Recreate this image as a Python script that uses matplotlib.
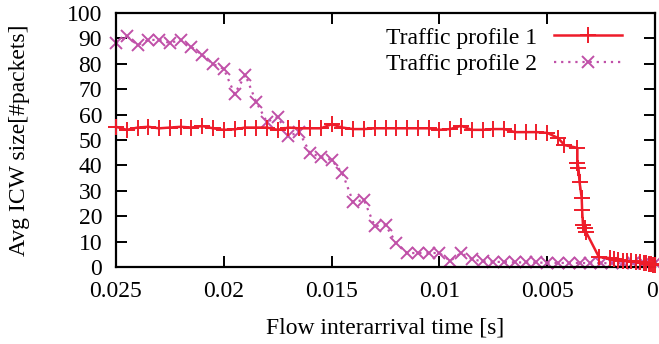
import matplotlib
matplotlib.use("Agg")
import matplotlib.pyplot as plt
import matplotlib.transforms as mtransforms

plt.rcParams['font.family'] = ['Liberation Serif', 'DejaVu Serif']

# Flow interarrival time [s] and average ICW size for each traffic profile
t_profile1 = [0.025, 0.0245, 0.024, 0.0235, 0.023, 0.0225, 0.022, 0.0215, 0.021, 0.0205,
              0.02, 0.0195, 0.019, 0.0185, 0.018, 0.0175, 0.017, 0.0165, 0.016, 0.0155,
              0.015, 0.0145, 0.014, 0.0135, 0.013, 0.0125, 0.012, 0.0115, 0.011, 0.0105,
              0.01, 0.0095, 0.009, 0.0085, 0.008, 0.0075, 0.007, 0.0065, 0.006, 0.0055,
              0.005, 0.0045, 0.0042, 0.0036, 0.0036, 0.00355, 0.0035, 0.0034, 0.00338,
              0.00334, 0.00326, 0.0032, 0.0026, 0.0021, 0.0019, 0.0017, 0.0015, 0.0013,
              0.0011, 0.0009, 0.0007, 0.0005, 0.0004, 0.0003, 0.0002, 0.0001, 0.0]
icw_profile1 = [55.2, 54.0, 54.9, 55.2, 54.6, 54.9, 55.2, 54.9, 55.5, 54.6,
                54.0, 54.2, 54.9, 54.9, 54.9, 54.0, 54.9, 54.6, 54.6, 54.6,
                56.2, 54.9, 54.3, 54.3, 54.6, 54.6, 54.6, 54.6, 54.6, 54.6,
                54.0, 54.3, 55.6, 54.0, 54.0, 54.3, 54.3, 53.1, 53.1, 53.1,
                52.8, 50.8, 48.0, 46.9, 41.0, 39.0, 33.5, 27.2, 22.4,
                16.5, 15.4, 13.8, 3.9, 3.5, 3.0, 2.8, 2.5, 2.3,
                2.2, 2.0, 1.8, 1.6, 1.5, 1.2, 1.0, 0.8, 0.8]

t_profile2 = [0.025, 0.0245, 0.024, 0.0235, 0.023, 0.0225, 0.022, 0.0215, 0.021, 0.0205,
              0.02, 0.0195, 0.019, 0.0185, 0.018, 0.0175, 0.017, 0.0165, 0.016, 0.0155,
              0.015, 0.0145, 0.014, 0.0135, 0.013, 0.0125, 0.012, 0.0115, 0.011, 0.0105,
              0.01, 0.0095, 0.009, 0.0085, 0.008, 0.0075, 0.007, 0.0065, 0.006, 0.0055,
              0.005, 0.0045, 0.004, 0.0035, 0.003, 0.0025, 0.002, 0.0015, 0.001, 0.0005, 0.0]
icw_profile2 = [88.2, 90.9, 87.4, 89.4, 89.4, 88.2, 89.4, 86.6, 83.5, 79.9,
                78.0, 68.1, 75.6, 65.0, 57.1, 59.1, 51.6, 53.1, 44.9, 43.3,
                42.1, 37.0, 25.6, 26.4, 16.1, 16.5, 9.4, 5.5, 5.5, 5.5,
                5.5, 2.4, 5.5, 3.1, 2.2, 2.0, 2.0, 1.8, 1.8, 1.8,
                1.6, 1.6, 1.6, 1.6, 1.5, 1.5, 1.5, 1.5, 1.5, 1.5, 1.5]

series_labels = ['Traffic profile 1', 'Traffic profile 2']
x_ticks = [0.025, 0.02, 0.015, 0.01, 0.005, 0.0]
x_tick_labels = ['0.025', '0.02', '0.015', '0.01', '0.005', '0']
y_ticks = [0, 10, 20, 30, 40, 50, 60, 70, 80, 90, 100]

FS = 17

fig = plt.figure(figsize=(6.59, 3.44), dpi=100)
ax = fig.add_axes([116 / 659, 1 - 267 / 344, (655 - 116) / 659, (267 - 13) / 344])

red = '#ee1c2a'
purple = '#c050a8'

ax.plot(t_profile1, icw_profile1, color=red, linestyle='-', linewidth=1.8,
        marker='+', markersize=11, markeredgewidth=1.4, label=series_labels[0],
        clip_on=False, zorder=3)
ax.plot(t_profile2, icw_profile2, color=purple, linestyle=(0, (1, 2.2)), linewidth=1.6,
        marker='x', markersize=9, markeredgewidth=1.4, label=series_labels[1],
        clip_on=False, zorder=2)

ax.set_xlim(0.025, 0.0)
ax.set_ylim(0, 100)
ax.set_xticks(x_ticks)
ax.set_xticklabels(x_tick_labels)
ax.set_yticks(y_ticks)

for s in ax.spines.values():
    s.set_linewidth(1.6)
ax.tick_params(direction='in', top=True, right=True, length=8, width=1.4,
               labelsize=FS, pad=10)
ax.tick_params(axis='x', pad=10)

# keep the rightmost "0" inside the canvas
last = ax.get_xticklabels()[-1]
last.set_transform(last.get_transform() +
                   mtransforms.ScaledTranslation(-3 / 100, 0, fig.dpi_scale_trans))

ax.set_xlabel('Flow interarrival time [s]', fontsize=FS)
ax.set_ylabel('Avg ICW size[#packets]', fontsize=FS)
ax.xaxis.set_label_coords(0.5, -(328 - 267) / 254, transform=ax.transAxes)
ax.yaxis.set_label_coords(-(116 - 20) / 539, 0.5, transform=ax.transAxes)
ax.xaxis.label.set_va('center')
ax.yaxis.label.set_va('center')

leg = ax.legend(loc='upper right', frameon=False, markerfirst=False,
                fontsize=FS, handlelength=2.9, handletextpad=0.7,
                borderaxespad=0.0, borderpad=0.0, labelspacing=0.2,
                bbox_to_anchor=((622 - 116) / 539, (267 - 27) / 254))

fig.savefig('out.png', dpi=100)
